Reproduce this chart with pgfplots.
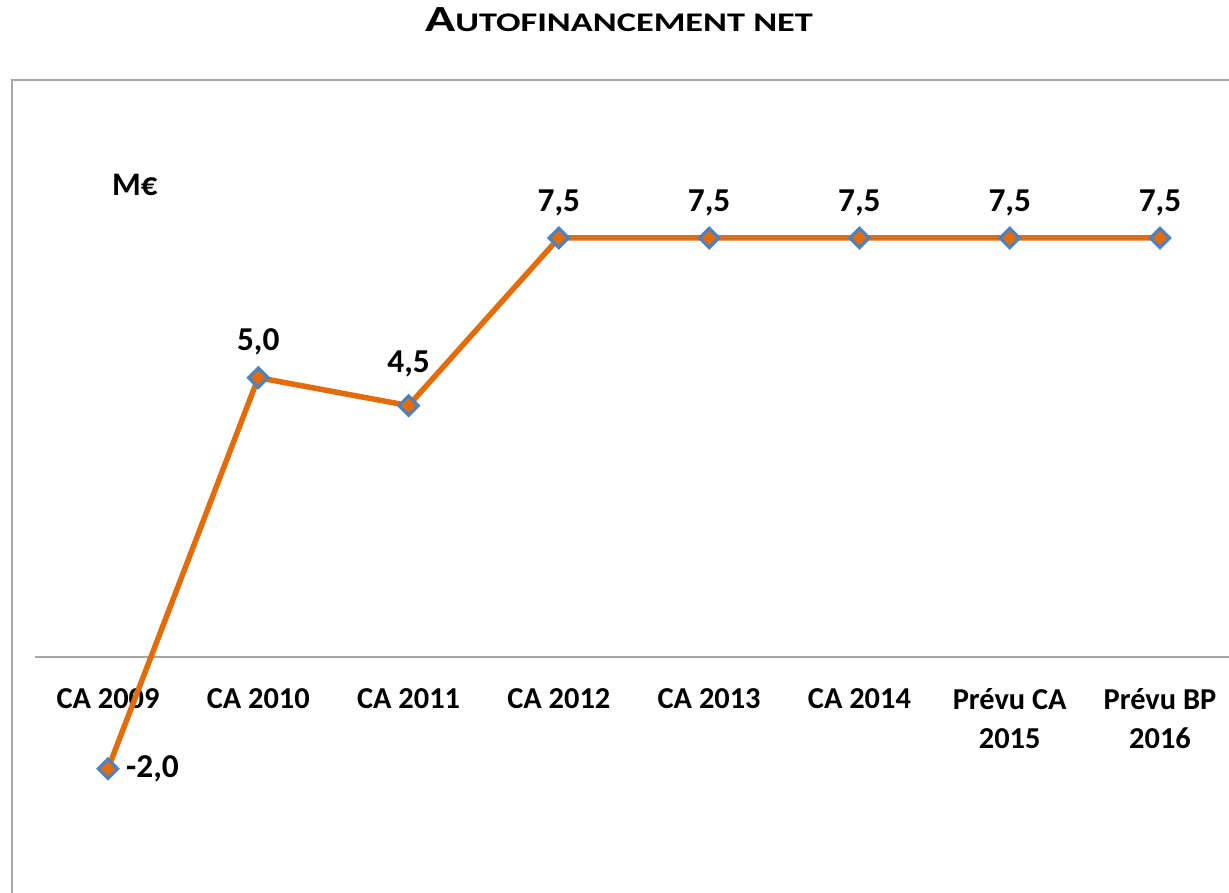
\documentclass[border=0pt]{standalone}
\usepackage{pgfplots}
\pgfplotsset{compat=1.18}
\usepackage{fontspec}
\setmainfont{Carlito}
\definecolor{lineor}{HTML}{E36C09}
\definecolor{mkblue}{HTML}{4F81BD}
\definecolor{frame}{HTML}{A6A6A6}
\begin{document}
\begin{tikzpicture}[x=1bp,y=1bp]
\useasboundingbox (0,0) rectangle (1229,893);
\draw[frame, line width=2bp] (12,-20) -- (12,813) -- (1250,813);
\node[anchor=base, inner sep=0pt] at (619,861) {\scalebox{1.35}[1]{\bfseries\fontsize{37}{40}\selectfont A\fontsize{27}{30}\selectfont UTOFINANCEMENT NET}};
\node[anchor=base west, inner sep=0pt, font=\bfseries\fontsize{33}{36}\selectfont] at (112,697) {M€};
\begin{axis}[
  at={(35bp,0bp)}, anchor=south west,
  scale only axis, width=1194bp, height=893bp,
  xmin=-0.4857, xmax=7.459, ymin=-4.224, ymax=11.76,
  axis x line=middle, axis y line=none,
  x axis line style={-, color=frame, line width=1.5bp},
  xtick={0,...,7}, major tick length=0pt,
  xticklabels={CA 2009, CA 2010, CA 2011, CA 2012, CA 2013, CA 2014, {Prévu CA\\2015}, {Prévu BP\\2016}},
  xticklabel style={font=\bfseries\fontsize{30.5}{39}\selectfont, align=center, anchor=north, yshift=-28bp},
  ytick=\empty,
  clip=false,
  /pgf/number format/assume math mode=true,
  /pgf/number format/use comma,
  /pgf/number format/fixed, /pgf/number format/fixed zerofill, /pgf/number format/precision=1,
]
\addplot[lineor, line width=5.5bp, mark=square*, mark size=6.8bp,
  mark options={fill=lineor, draw=mkblue, line width=3.2bp, rotate=45}]
  coordinates {(0,-2.0) (1,5.0) (2,4.5) (3,7.5) (4,7.5) (5,7.5) (6,7.5) (7,7.5)};
\addplot[draw=none, mark=none, nodes near coords,
  every node near coord/.append style={font=\bfseries\fontsize{33.5}{36}\selectfont, anchor=south, yshift=20bp, inner sep=2bp}]
  coordinates {(1,5.0) (3,7.5) (4,7.5) (5,7.5) (6,7.5) (7,7.5)};
\addplot[draw=none, mark=none, nodes near coords,
  every node near coord/.append style={font=\bfseries\fontsize{33.5}{36}\selectfont, anchor=south, yshift=26bp, inner sep=2bp}]
  coordinates {(2,4.5)};
\addplot[draw=none, mark=none, nodes near coords,
  every node near coord/.append style={font=\bfseries\fontsize{33.5}{36}\selectfont, anchor=west, xshift=16bp, inner sep=2bp}]
  coordinates {(0,-2.0)};
\end{axis}
\end{tikzpicture}
\end{document}
